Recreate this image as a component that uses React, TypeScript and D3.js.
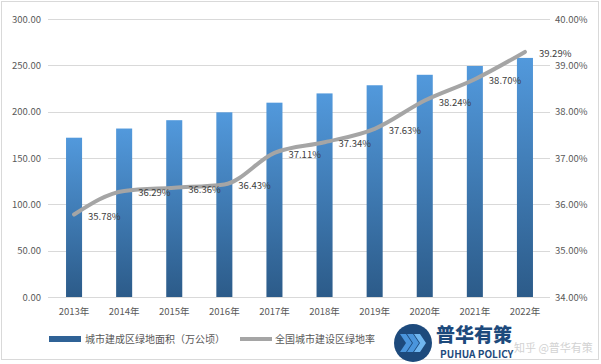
import React, { useEffect, useRef } from 'react'
import * as d3 from 'd3'

// chart data
const years = ['2013年', '2014年', '2015年', '2016年', '2017年', '2018年', '2019年', '2020年', '2021年', '2022年']
const greenArea = [171.9, 181.8, 190.8, 199.3, 209.7, 219.7, 228.5, 239.8, 249.3, 258.0]
const greenRate = [35.78, 36.29, 36.36, 36.43, 37.11, 37.34, 37.63, 38.24, 38.7, 39.29]
const leftTicks = [0, 50, 100, 150, 200, 250, 300]
const rightTicks = [34, 35, 36, 37, 38, 39, 40]
const legendNames = ['城市建成区绿地面积（万公顷）', '全国城市建设区绿地率']

const W = 601
const H = 364
const font = '"Noto Sans CJK SC", "DejaVu Sans", sans-serif'
const textColor = '#595959'

function App() {
    const ref = useRef<SVGSVGElement>(null)

    useEffect(() => {
        const svg = d3.select(ref.current)
        svg.selectAll('*').remove()

        const left = 49, right = 550, top = 19, bottom = 297

        const x = d3.scaleBand().domain(years).range([left, right]).paddingInner(0.68).paddingOuter(0.34)
        const yL = d3.scaleLinear().domain([0, 300]).range([bottom, top])
        const yR = d3.scaleLinear().domain([34, 40]).range([bottom, top])
        const cx = (d: string) => (x(d) as number) + x.bandwidth() / 2

        // outer frame
        svg.append('rect')
            .attr('x', 1.5).attr('y', 1.5).attr('width', W - 4).attr('height', H - 6)
            .attr('fill', '#fff').attr('stroke', '#d9d9d9')

        const defs = svg.append('defs')
        const grad = defs.append('linearGradient').attr('id', 'barGrad')
            .attr('x1', 0).attr('y1', 0).attr('x2', 0).attr('y2', 1)
        grad.append('stop').attr('offset', '0%').attr('stop-color', '#5299dc')
        grad.append('stop').attr('offset', '100%').attr('stop-color', '#2c5b89')

        // gridlines
        svg.append('g').selectAll('line').data(leftTicks).join('line')
            .attr('x1', 48).attr('x2', right)
            .attr('y1', d => Math.round(yL(d)) + 0.5).attr('y2', d => Math.round(yL(d)) + 0.5)
            .attr('stroke', '#d9d9d9')

        // left axis labels
        svg.append('g').selectAll('text').data(leftTicks).join('text')
            .attr('x', 41).attr('y', d => yL(d) + 3.5)
            .attr('text-anchor', 'end')
            .attr('font-family', font).attr('font-size', 9.5).attr('fill', textColor)
            .text(d => d3.format('.2f')(d))

        // right axis labels
        svg.append('g').selectAll('text').data(rightTicks).join('text')
            .attr('x', 555).attr('y', d => yR(d) + 3.5)
            .attr('font-family', font).attr('font-size', 9.5).attr('fill', textColor)
            .text(d => d3.format('.2f')(d) + '%')

        // bars
        svg.append('g').selectAll('rect').data(years).join('rect')
            .attr('x', d => x(d) as number)
            .attr('y', (d, i) => yL(greenArea[i]))
            .attr('width', x.bandwidth())
            .attr('height', (d, i) => bottom - yL(greenArea[i]))
            .attr('fill', 'url(#barGrad)')

        // x labels
        svg.append('g').selectAll('text').data(years).join('text')
            .attr('x', d => cx(d)).attr('y', 315)
            .attr('text-anchor', 'middle')
            .attr('font-family', font).attr('font-size', 9.5).attr('fill', textColor)
            .text(d => d)

        // rate line
        const line = d3.line<number>()
            .x((d, i) => cx(years[i]))
            .y(d => yR(d))
            .curve(d3.curveMonotoneX)
        svg.append('path')
            .attr('d', line(greenRate))
            .attr('fill', 'none').attr('stroke', '#a5a5a5')
            .attr('stroke-width', 4).attr('stroke-linecap', 'round')

        // line labels
        svg.append('g').selectAll('text').data(greenRate).join('text')
            .attr('x', (d, i) => cx(years[i]) + 14)
            .attr('y', d => yR(d) + 5)
            .attr('font-family', font).attr('font-size', 9.5).attr('fill', '#404040')
            .text(d => d3.format('.2f')(d) + '%')

        // legend
        const lg = svg.append('g')
        lg.append('rect').attr('x', 49).attr('y', 336).attr('width', 32).attr('height', 6).attr('fill', '#2f6296')
        lg.append('text').attr('x', 85).attr('y', 343)
            .attr('font-family', font).attr('font-size', 10).attr('fill', textColor)
            .text(legendNames[0])
        lg.append('line').attr('x1', 240).attr('x2', 272).attr('y1', 339).attr('y2', 339)
            .attr('stroke', '#a5a5a5').attr('stroke-width', 4)
        lg.append('text').attr('x', 275).attr('y', 343)
            .attr('font-family', font).attr('font-size', 10).attr('fill', textColor)
            .text(legendNames[1])

        // watermark
        const wm = svg.append('g')
        wm.append('text').attr('x', 514).attr('y', 352)
            .attr('font-family', font).attr('font-size', 11).attr('fill', '#c8c8c8').attr('opacity', 0.8)
            .text('知乎 @普华有策')
        wm.append('circle').attr('cx', 413).attr('cy', 343).attr('r', 19).attr('fill', '#1d4a7c')
        ;[0, 7, 14].forEach(o => {
            wm.append('path')
                .attr('d', `M${400 + o},334 l6,0 l6,9 l-6,9 l-6,0 l6,-9 z`)
                .attr('fill', o === 14 ? '#6fb6f0' : '#4a95dc')
        })
        wm.append('text').attr('x', 436).attr('y', 342)
            .attr('font-family', font).attr('font-size', 19).attr('font-weight', 900).attr('fill', '#1d4a7c')
            .text('普华有策')
        wm.append('text').attr('x', 440).attr('y', 358)
            .attr('font-family', font).attr('font-size', 10).attr('font-weight', 700).attr('fill', '#1d4a7c')
            .text('PUHUA POLICY')
    }, [])

    return (
        <svg ref={ref} width={W} height={H} style={{ display: 'block', position: 'absolute', left: 0, top: 0 }} />
    )
}

export default App
